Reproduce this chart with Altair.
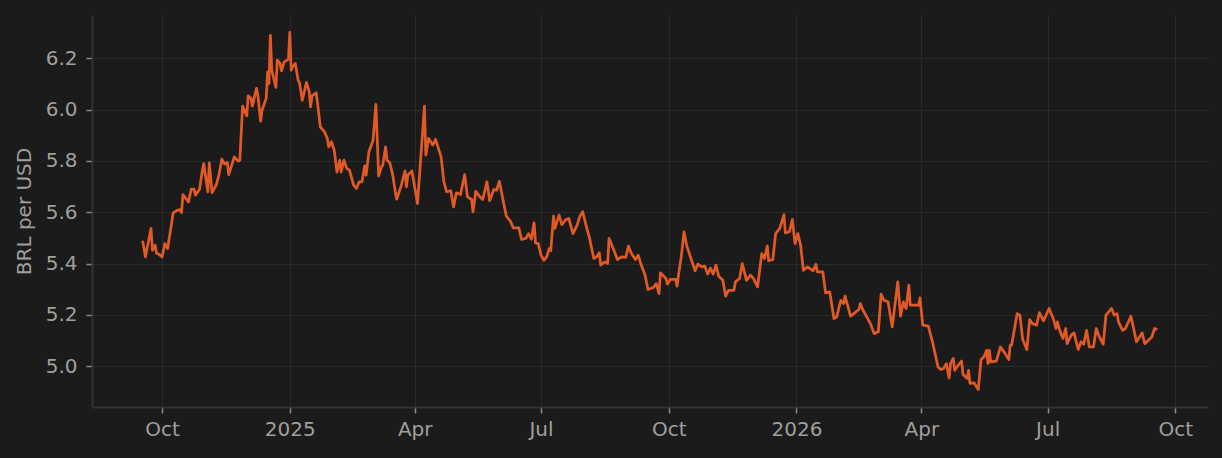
import altair as alt
import pandas as pd

# trading-day offsets from 2024-09-17 and BRL per USD values
day_offsets = [
    0, 2, 6, 7, 9, 10, 12, 14, 16, 18, 22, 25, 27, 28, 29, 33, 35, 37, 38, 41,
    43, 44, 45, 47, 48, 50, 53, 55, 57, 59, 61, 62, 64, 66, 69, 70, 72, 73, 75, 76,
    78, 79, 82, 83, 85, 86, 89, 90, 91, 92, 93, 96, 97, 99, 100, 102, 105, 106, 107, 108,
    110, 112, 113, 115, 118, 120, 121, 122, 125, 126, 128, 131, 133, 134, 136, 138, 140, 142, 143, 145,
    147, 149, 152, 154, 156, 158, 160, 161, 163, 166, 168, 169, 170, 172, 173, 175, 176, 178, 180, 182,
    183, 186, 189, 190, 191, 194, 198, 203, 204, 206, 209, 211, 215, 217, 219, 222, 224, 226, 229, 232,
    234, 237, 238, 240, 243, 245, 248, 250, 253, 255, 257, 260, 262, 265, 267, 271, 273, 276, 278, 280,
    282, 283, 285, 287, 289, 291, 293, 294, 296, 297, 300, 302, 305, 307, 310, 313, 315, 317, 320, 322,
    325, 327, 329, 330, 333, 335, 336, 339, 342, 345, 348, 350, 352, 355, 357, 359, 362, 364, 368, 370,
    372, 373, 377, 378, 380, 384, 385, 386, 388, 390, 392, 395, 398, 400, 403, 405, 407, 409, 411, 413,
    415, 418, 420, 422, 426, 427, 430, 432, 435, 438, 440, 443, 446, 448, 450, 451, 454, 456, 459, 462,
    463, 466, 468, 470, 472, 474, 476, 479, 483, 485, 486, 490, 492, 495, 498, 500, 503, 505, 506, 510,
    513, 516, 517, 519, 524, 527, 530, 532, 534, 537, 540, 544, 546, 548, 550, 552, 553, 559, 560, 562,
    566, 569, 573, 575, 577, 579, 581, 582, 584, 585, 587, 590, 591, 594, 595, 596, 599, 602, 604, 606,
    608, 609, 610, 611, 615, 618, 621, 624, 625, 626, 630, 632, 634, 637, 639, 641, 644, 646, 649, 653,
    656, 658, 659, 661, 663, 665, 666, 669, 671, 674, 676, 678, 680, 682, 685, 687, 689, 692, 694, 698,
    700, 702, 703, 706, 708, 712, 716, 720, 722, 727, 729, 731,
]
brl_per_usd = [
    5.489, 5.426, 5.537, 5.452, 5.472, 5.440, 5.435, 5.426, 5.478, 5.459, 5.598, 5.608, 5.611, 5.599, 5.669, 5.640, 5.690, 5.690, 5.667, 5.690,
    5.764, 5.790, 5.751, 5.680, 5.793, 5.677, 5.706, 5.747, 5.807, 5.788, 5.794, 5.747, 5.781, 5.816, 5.799, 5.803, 6.014, 6.002, 5.976, 6.054,
    6.044, 6.014, 6.083, 6.057, 5.955, 5.998, 6.044, 6.147, 6.102, 6.290, 6.154, 6.087, 6.193, 6.180, 6.151, 6.186, 6.196, 6.301, 6.154, 6.167,
    6.180, 6.115, 6.105, 6.037, 6.106, 6.069, 6.011, 6.054, 6.066, 6.024, 5.933, 5.913, 5.888, 5.855, 5.875, 5.842, 5.757, 5.803, 5.757, 5.803,
    5.771, 5.764, 5.706, 5.693, 5.719, 5.719, 5.781, 5.745, 5.836, 5.881, 6.021, 5.888, 5.742, 5.777, 5.784, 5.855, 5.803, 5.793, 5.751, 5.680,
    5.651, 5.699, 5.761, 5.699, 5.745, 5.761, 5.634, 6.014, 5.823, 5.888, 5.862, 5.884, 5.816, 5.719, 5.680, 5.684, 5.621, 5.676, 5.669, 5.747,
    5.660, 5.650, 5.602, 5.682, 5.660, 5.650, 5.719, 5.645, 5.689, 5.686, 5.721, 5.637, 5.585, 5.565, 5.539, 5.539, 5.494, 5.498, 5.517, 5.495,
    5.559, 5.481, 5.478, 5.433, 5.413, 5.426, 5.459, 5.450, 5.585, 5.537, 5.589, 5.552, 5.572, 5.576, 5.517, 5.550, 5.585, 5.602, 5.537, 5.498,
    5.420, 5.426, 5.442, 5.394, 5.407, 5.400, 5.498, 5.459, 5.416, 5.426, 5.424, 5.468, 5.440, 5.416, 5.433, 5.397, 5.355, 5.299, 5.307, 5.322,
    5.283, 5.364, 5.342, 5.320, 5.338, 5.338, 5.312, 5.355, 5.426, 5.524, 5.469, 5.420, 5.372, 5.398, 5.387, 5.390, 5.359, 5.383, 5.359, 5.394,
    5.351, 5.335, 5.273, 5.296, 5.296, 5.329, 5.342, 5.400, 5.335, 5.355, 5.342, 5.309, 5.439, 5.420, 5.469, 5.411, 5.416, 5.517, 5.537, 5.591,
    5.520, 5.524, 5.572, 5.478, 5.517, 5.472, 5.374, 5.387, 5.372, 5.397, 5.368, 5.368, 5.286, 5.290, 5.186, 5.192, 5.257, 5.244, 5.273, 5.195,
    5.208, 5.221, 5.244, 5.218, 5.169, 5.127, 5.134, 5.281, 5.257, 5.251, 5.153, 5.329, 5.195, 5.251, 5.225, 5.316, 5.238, 5.238, 5.266, 5.160,
    5.156, 5.095, 4.997, 4.987, 4.991, 5.010, 4.954, 5.010, 5.030, 4.984, 5.000, 5.020, 4.968, 4.952, 4.984, 4.933, 4.935, 4.909, 5.026, 5.036,
    5.062, 5.010, 5.062, 5.017, 5.020, 5.075, 5.052, 5.026, 5.082, 5.082, 5.205, 5.199, 5.104, 5.065, 5.182, 5.166, 5.160, 5.209, 5.177, 5.225,
    5.186, 5.147, 5.173, 5.134, 5.108, 5.147, 5.088, 5.121, 5.130, 5.065, 5.095, 5.086, 5.140, 5.075, 5.075, 5.147, 5.117, 5.086, 5.199, 5.225,
    5.199, 5.205, 5.173, 5.140, 5.147, 5.195, 5.095, 5.130, 5.088, 5.114, 5.147, 5.143,
]

BG = "#1b1b1b"

start = pd.Timestamp("2024-09-17")
dates = [(start + pd.Timedelta(days=d)).strftime("%Y-%m-%dT00:00:00") for d in day_offsets]
df = pd.DataFrame({"date": dates, "value": brl_per_usd})

tick_values = [
    alt.DateTime(year=2024, month=10, date=1),
    alt.DateTime(year=2025, month=1, date=1),
    alt.DateTime(year=2025, month=4, date=1),
    alt.DateTime(year=2025, month=7, date=1),
    alt.DateTime(year=2025, month=10, date=1),
    alt.DateTime(year=2026, month=1, date=1),
    alt.DateTime(year=2026, month=4, date=1),
    alt.DateTime(year=2026, month=7, date=1),
    alt.DateTime(year=2026, month=10, date=1),
]

FONT = "DejaVu Sans"
LABEL = "#a09f9c"

chart = (
    alt.Chart(df)
    .mark_line(color="#e15a26", strokeWidth=2.75, strokeJoin="round")
    .encode(
        x=alt.X(
            "date:T",
            title=None,
            scale=alt.Scale(
                domain=[
                    alt.DateTime(year=2024, month=8, date=11, hours=12),
                    alt.DateTime(year=2026, month=10, date=24, hours=12),
                ],
                nice=False,
            ),
            axis=alt.Axis(
                values=tick_values,
                labelExpr="month(datum.value) == 0 ? timeFormat(datum.value, '%Y') : timeFormat(datum.value, '%b')",
                grid=True,
                gridColor="#2a2a2a",
                gridWidth=1,
                domainColor="#333333",
                domainWidth=2,
                tickColor="#8c8c8c",
                tickSize=6,
                tickWidth=1.5,
                labelColor=LABEL,
                labelFont=FONT,
                labelFontSize=20,
                labelPadding=6,
            ),
        ),
        y=alt.Y(
            "value:Q",
            title="BRL per USD",
            scale=alt.Scale(domain=[4.841, 6.369], nice=False, zero=False),
            axis=alt.Axis(
                values=[5.0, 5.2, 5.4, 5.6, 5.8, 6.0, 6.2],
                format=".1f",
                grid=True,
                gridColor="#2a2a2a",
                gridWidth=1,
                domainColor="#333333",
                domainWidth=2,
                tickColor="#8c8c8c",
                tickSize=6,
                tickWidth=1.5,
                labelColor=LABEL,
                labelFont=FONT,
                labelFontSize=20,
                labelPadding=9,
                titleColor=LABEL,
                titleFont=FONT,
                titleFontSize=20,
                titleFontWeight="normal",
                titleAngle=270,
                titleAlign="center",
                titleBaseline="middle",
                titleX=-68,
                titleY=196,
            ),
        ),
    )
    .properties(
        width=1116,
        height=392,
        background=BG,
        padding={"left": 84, "top": 7, "right": 6, "bottom": 40},
        autosize=alt.AutoSizeParams(type="none"),
    )
    .configure_view(stroke=None)
)

# give the page itself the same dark background as the chart
try:
    import altair.utils.html as _alt_html

    _orig_standard = _alt_html.TEMPLATES["standard"]

    class _DarkPage:
        def render(self, **kw):
            html = _orig_standard.render(**kw)
            style = "<style>html, body { background: %s; }</style>" % BG
            if "<head>" in html:
                return html.replace("<head>", "<head>" + style, 1)
            return style + html

    _alt_html.TEMPLATES["standard"] = _DarkPage()
except Exception:
    pass

chart.save("out.html", embed_options={"renderer": "svg", "actions": False})
